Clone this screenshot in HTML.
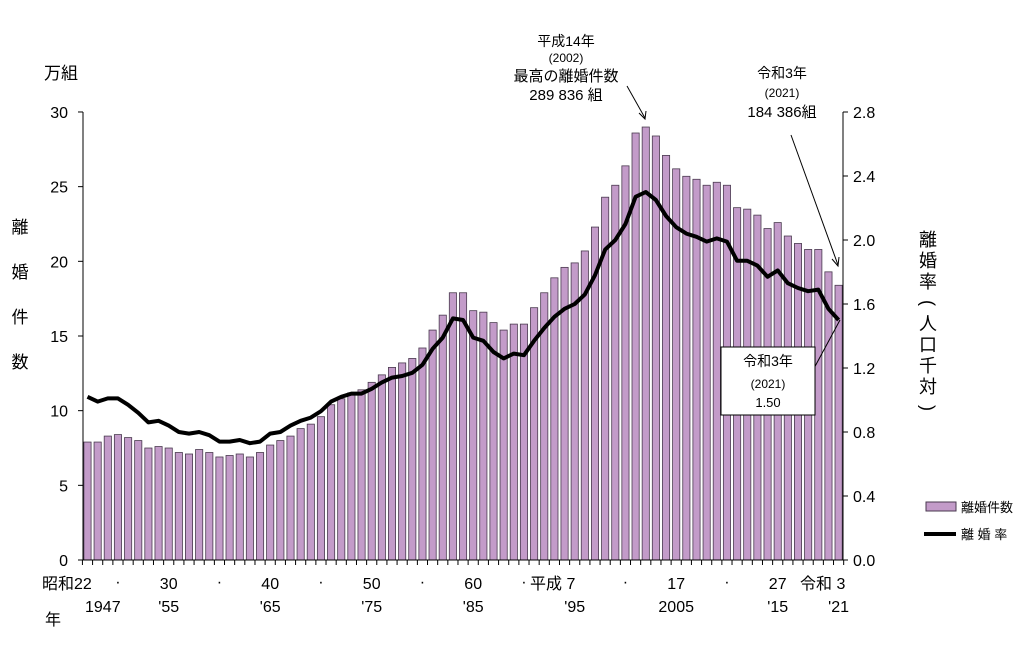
<!DOCTYPE html>
<html><head><meta charset="utf-8"><style>
body{margin:0;background:#fff;}
svg text{font-family:"Liberation Sans","Noto Sans CJK JP",sans-serif;fill:#000;}
</style></head><body>
<svg id="s" width="1024" height="644" xmlns="http://www.w3.org/2000/svg"></svg>
<script>
const cnt=[7.9,7.9,8.3,8.4,8.2,8.0,7.5,7.6,7.5,7.2,7.1,7.4,7.2,6.9,7.0,7.1,6.9,7.2,7.7,8.0,8.3,8.8,9.1,9.6,10.4,10.8,11.2,11.4,11.9,12.4,12.9,13.2,13.5,14.2,15.4,16.4,17.9,17.9,16.7,16.6,15.9,15.4,15.8,15.8,16.9,17.9,18.9,19.6,19.9,20.7,22.3,24.3,25.1,26.4,28.6,29.0,28.4,27.1,26.2,25.7,25.5,25.1,25.3,25.1,23.6,23.5,23.1,22.2,22.6,21.7,21.2,20.8,20.8,19.3,18.4];
const rate=[1.02,0.99,1.01,1.01,0.97,0.92,0.86,0.87,0.84,0.80,0.79,0.80,0.78,0.74,0.74,0.75,0.73,0.74,0.79,0.80,0.84,0.87,0.89,0.93,0.99,1.02,1.04,1.04,1.07,1.11,1.14,1.15,1.17,1.22,1.32,1.39,1.51,1.50,1.39,1.37,1.30,1.26,1.29,1.28,1.37,1.45,1.52,1.57,1.60,1.66,1.78,1.94,2.00,2.10,2.27,2.30,2.25,2.15,2.08,2.04,2.02,1.99,2.01,1.99,1.87,1.87,1.84,1.77,1.81,1.73,1.70,1.68,1.69,1.57,1.50];
const P=10.15,X0=87.5;const cx=i=>X0+i*P;
let h='';
cnt.forEach((v,i)=>{const y=560-v*14.93;h+=`<rect x="${cx(i)-3.6}" y="${y}" width="7.2" height="${560-y}" fill="#c39bc9" stroke="#4a3a4f" stroke-width="0.8"/>`;});
h+=`<line x1="83" y1="112" x2="83" y2="560" stroke="#000"/><line x1="843" y1="112" x2="843" y2="560" stroke="#000"/><line x1="83" y1="560" x2="843" y2="560" stroke="#000"/>`;
for(let k=0;k<=6;k++){const y=560-k*74.67;h+=`<line x1="78" y1="${y}" x2="83" y2="${y}" stroke="#000"/><text x="68" y="${y+6}" font-size="16" text-anchor="end">${k*5}</text>`;}
for(let k=0;k<=7;k++){const y=560-k*64;h+=`<line x1="843" y1="${y}" x2="848" y2="${y}" stroke="#000"/><text x="853" y="${y+6}" font-size="16">${(k*0.4).toFixed(1)}</text>`;}
for(let i=0;i<=75;i++){const x=X0-P/2+i*P;h+=`<line x1="${x}" y1="560" x2="${x}" y2="565" stroke="#000"/>`;}
h+=`<polyline fill="none" stroke="#000" stroke-width="4" stroke-linejoin="round" points="${rate.map((r,i)=>cx(i)+','+(560-r*160)).join(' ')}"/>`;
const L1=[[8,'30'],[18,'40'],[28,'50'],[38,'60'],[58,'17'],[68,'27']];
L1.forEach(([i,t])=>h+=`<text x="${cx(i)}" y="589" font-size="16" text-anchor="middle">${t}</text>`);
[3,13,23,33,43,53,63].forEach(i=>h+=`<text x="${cx(i)}" y="587" font-size="16" text-anchor="middle">·</text>`);
h+=`<text x="42" y="589" font-size="16">昭和22</text>`;
h+=`<text x="530" y="589" font-size="16">平成 7</text><text x="800" y="589" font-size="16">令和 3</text>`;
[[8,"'55"],[18,"'65"],[28,"'75"],[38,"'85"],[48,"'95"],[58,"2005"],[68,"'15"],[74,"'21"]].forEach(([i,t])=>h+=`<text x="${cx(i)}" y="612" font-size="16" text-anchor="middle">${t}</text>`);
h+=`<text x="85" y="612" font-size="16">1947</text><text x="45" y="625" font-size="16">年</text>`;
h+=`<text x="44" y="79" font-size="17">万組</text>`;
['離','婚','件','数'].forEach((c,k)=>h+=`<text x="20" y="${233+k*45}" font-size="17" text-anchor="middle">${c}</text>`);
['離','婚','率','(','人','口','千','対',')'].forEach((c,k)=>h+=`<text x="928" y="${246+k*21}" font-size="18" text-anchor="middle" ${'()'.includes(c)?`transform="rotate(90 928 ${240+k*21})"`:''}>${c}</text>`);
h+=`<text x="566" y="46" font-size="14" text-anchor="middle">平成14年</text><text x="566" y="62" font-size="12" text-anchor="middle">(2002)</text><text x="566" y="81" font-size="15" text-anchor="middle">最高の離婚件数</text><text x="566" y="100" font-size="15" text-anchor="middle">289 836 組</text>`;
h+=`<line x1="627" y1="86" x2="645" y2="118" stroke="#000"/><polyline points="639,113 645,119 646,111" fill="none" stroke="#000"/>`;
h+=`<text x="782" y="78" font-size="14" text-anchor="middle">令和3年</text><text x="782" y="97" font-size="12" text-anchor="middle">(2021)</text><text x="782" y="117" font-size="15" text-anchor="middle">184 386組</text>`;
h+=`<line x1="791" y1="135" x2="838" y2="265" stroke="#000"/><polyline points="832,259 838,266 839,257" fill="none" stroke="#000"/>`;
h+=`<line x1="812" y1="372" x2="840" y2="320" stroke="#000"/>`;
h+=`<rect x="721" y="347" width="94" height="68" fill="#fff" stroke="#000"/><text x="768" y="366" font-size="14" text-anchor="middle">令和3年</text><text x="768" y="388" font-size="12" text-anchor="middle">(2021)</text><text x="768" y="407" font-size="13" text-anchor="middle">1.50</text>`;
h+=`<rect x="926" y="502" width="30" height="9" fill="#c39bc9" stroke="#4a3a4f"/><text x="961" y="512" font-size="13">離婚件数</text>`;
h+=`<line x1="924" y1="534" x2="956" y2="534" stroke="#000" stroke-width="4"/><text x="961" y="539" font-size="13">離 婚 率</text>`;
document.getElementById('s').innerHTML=h;
</script>
</body></html>
